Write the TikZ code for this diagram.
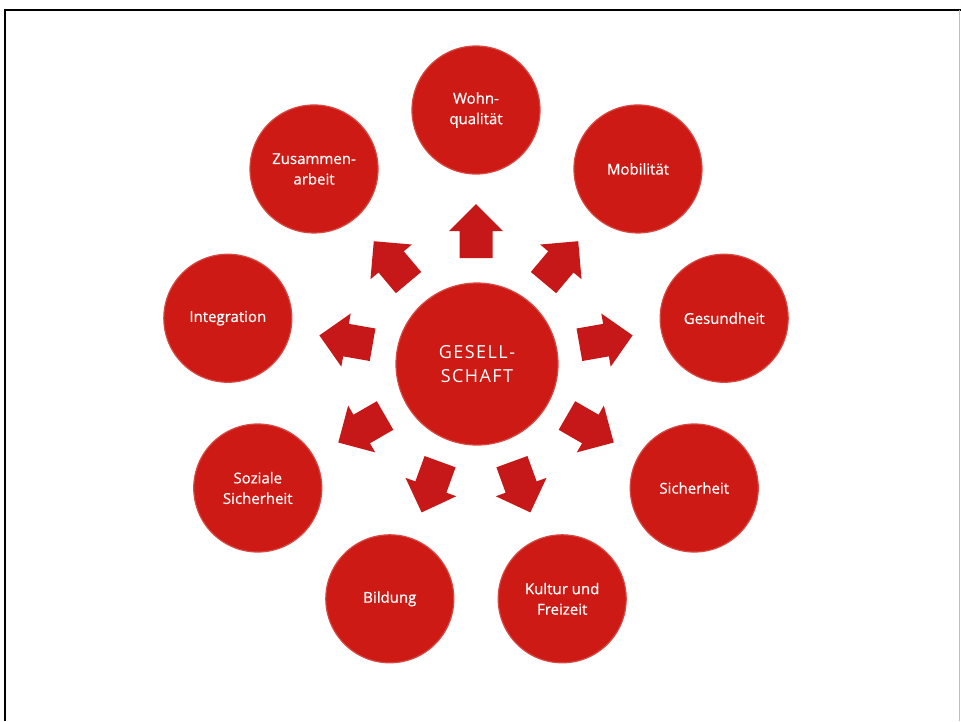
\documentclass[tikz,border=0pt]{standalone}
\usepackage{fontspec}
\setmainfont{Open Sans}
\usetikzlibrary{calc}
\definecolor{cred}{RGB}{206,26,20}
\definecolor{ared}{RGB}{198,24,24}
\begin{document}
\begin{tikzpicture}[x=1pt,y=-1pt,
  sat/.style={circle,fill=cred,draw=cred!80!white,line width=1.2pt,minimum size=128pt,inner sep=0pt,
    text=white,font=\fontsize{15}{20.5}\selectfont\addfontfeature{FakeBold=0.6},align=center},
  hub/.style={circle,fill=cred,draw=cred!80!white,line width=1.2pt,minimum size=162pt,inner sep=0pt,
    text=white,font=\fontsize{18}{24.5}\selectfont,align=center},
  bigarrow/.style={fill=ared}]
\useasboundingbox (0,0) rectangle (961,721);
\fill[white] (0,0) rectangle (961,721);
\draw[black,line width=1.6pt] (5,721) -- (5,10) -- (961,10);
\draw[black!25,line width=0.6pt] (959,10) -- (959,721);
\coordinate (o) at (476,362);
\node[hub] (g) at (477,364) {\addfontfeature{LetterSpace=8}GESELL-\\\addfontfeature{LetterSpace=8}SCHAFT};
\foreach \ang/\nm/\txt in {90/c1/{Wohn-\\qualität},50/c2/{Mobilität},10/c3/{Gesundheit},
  -30/c4/{Sicherheit},-70/c5/{Kultur und\\Freizeit},-110/c6/{Bildung},
  -150/c7/{Soziale\\Sicherheit},170/c8/{Integration},130/c9/{Zusammen-\\arbeit}}{
  \node[sat] (\nm) at ($(o)+(\ang:252 and -252)$) {\txt};
  \fill[bigarrow,shift={(476,363)},rotate=\ang]
    (105,-16.5) -- (132,-16.5) -- (132,-27) -- (159,0) -- (132,27) -- (132,16.5) -- (105,16.5) -- cycle;
}
\end{tikzpicture}
\end{document}
